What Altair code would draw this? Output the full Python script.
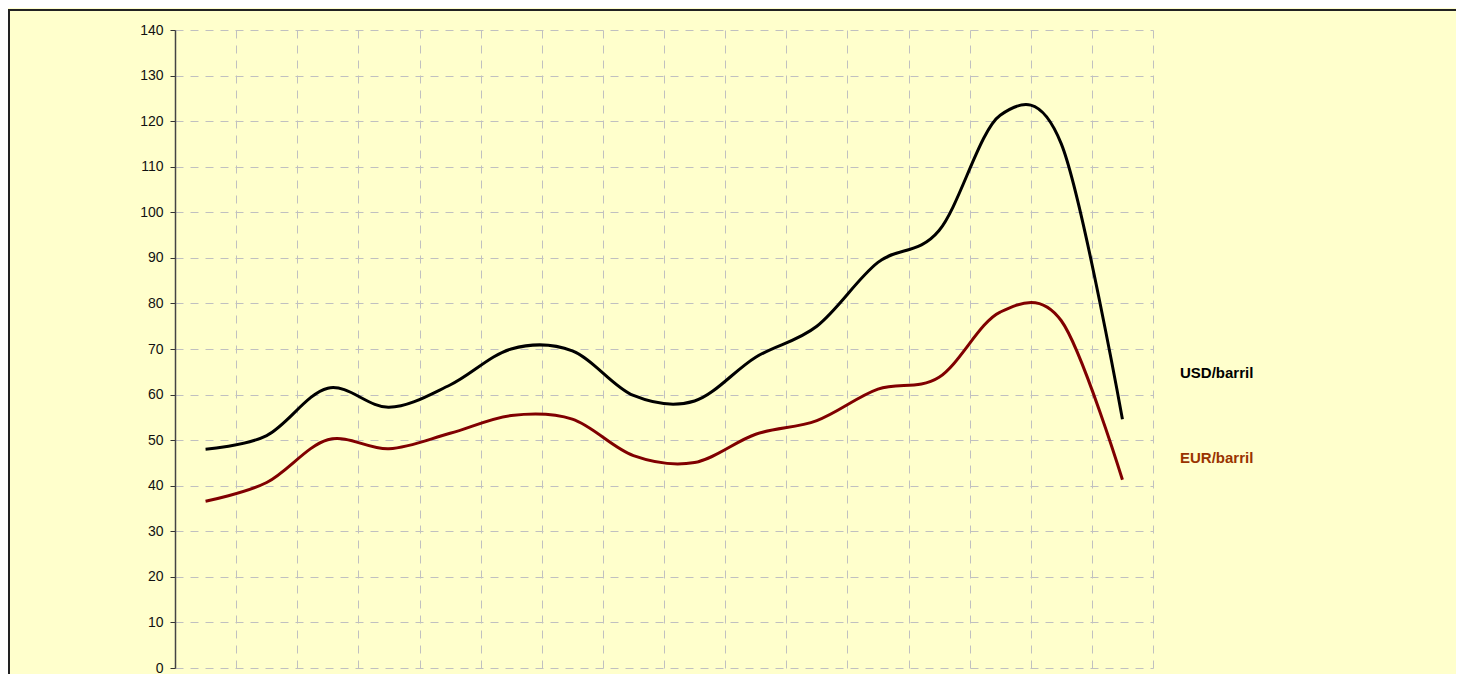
import altair as alt
import pandas as pd

# ---- data ----
periods = list(range(1, 17))
usd_barril = [48.0, 51.0, 61.4, 57.2, 62.1, 70.0, 69.6, 59.8, 58.6, 68.2, 75.0, 89.0, 96.0, 121.3, 115.0, 54.6]
eur_barril = [36.6, 40.7, 50.1, 48.1, 51.5, 55.4, 54.6, 46.6, 45.1, 51.3, 54.3, 61.2, 63.8, 78.1, 76.2, 41.3]
series_names = ["USD/barril", "EUR/barril"]
line_colors = ["#000000", "#800000"]
label_colors = ["#000000", "#993300"]
y_ticks = list(range(0, 141, 10))
x_grid = list(range(0, 17))

rows = []
for p, u, e in zip(periods, usd_barril, eur_barril):
    rows.append({"periodo": p, "serie": series_names[0], "valor": u})
    rows.append({"periodo": p, "serie": series_names[1], "valor": e})
df = pd.DataFrame(rows)

W, H = 978, 638
PAD_L, PAD_T = 167, 22
TOTAL_W, TOTAL_H = 1448, 666

lines = alt.Chart(df).transform_calculate(
    pos="datum.periodo - 0.5"
).mark_line(interpolate="cardinal", strokeWidth=3).encode(
    x=alt.X("pos:Q", scale=alt.Scale(domain=[0, 16], nice=False, zero=False),
            axis=alt.Axis(values=x_grid, labels=False, ticks=False, domain=False,
                          grid=True, gridColor="#C0C0C0", gridDash=[8, 7], gridWidth=1,
                          title=None)),
    y=alt.Y("valor:Q", scale=alt.Scale(domain=[0, 140], nice=False),
            axis=alt.Axis(values=y_ticks, title=None, grid=True, gridColor="#C0C0C0",
                          gridDash=[8, 7], gridWidth=1, domainColor="#444444",
                          domainWidth=1.5, tickColor="#333333", tickSize=5,
                          labelFont="Liberation Sans", labelFontSize=14,
                          labelColor="#111111", labelPadding=7)),
    color=alt.Color("serie:N", scale=alt.Scale(domain=series_names, range=line_colors), legend=None),
    detail="serie:N",
)

one = pd.DataFrame({"a": [0]})
frame_white = alt.Chart(one).mark_rule(color="white", strokeWidth=2).encode(
    x=alt.value(-170), x2=alt.value(1400), y=alt.value(-PAD_T - 1))
frame_top = alt.Chart(one).mark_rule(color="#222222", strokeWidth=2).encode(
    x=alt.value(-PAD_L), x2=alt.value(1400), y=alt.value(-PAD_T + 2))
frame_left = alt.Chart(one).mark_rule(color="#222222", strokeWidth=2).encode(
    x=alt.value(-PAD_L + 1), y=alt.value(-PAD_T + 1), y2=alt.value(700))

lab_df = pd.DataFrame({"serie": series_names, "color": label_colors})
usd_text = alt.Chart(lab_df).transform_filter(alt.datum.serie == series_names[0]).mark_text(
    align="left", baseline="middle", font="Liberation Sans", fontSize=15, fontWeight="bold",
    color=label_colors[0]).encode(text="serie:N", x=alt.value(1005), y=alt.value(343))
eur_text = alt.Chart(lab_df).transform_filter(alt.datum.serie == series_names[1]).mark_text(
    align="left", baseline="middle", font="Liberation Sans", fontSize=15, fontWeight="bold",
    color=label_colors[1]).encode(text="serie:N", x=alt.value(1005), y=alt.value(428))

chart = alt.layer(frame_white, frame_top, frame_left, lines, usd_text, eur_text).properties(
    width=W, height=H,
    autosize=alt.AutoSizeParams(type="none"),
    padding={"left": PAD_L, "top": PAD_T, "right": TOTAL_W - PAD_L - W,
             "bottom": TOTAL_H - PAD_T - H},
).configure(background="#FFFFCC").configure_view(stroke=None)

chart.save("out.html", embed_options={"renderer": "svg", "actions": False})
